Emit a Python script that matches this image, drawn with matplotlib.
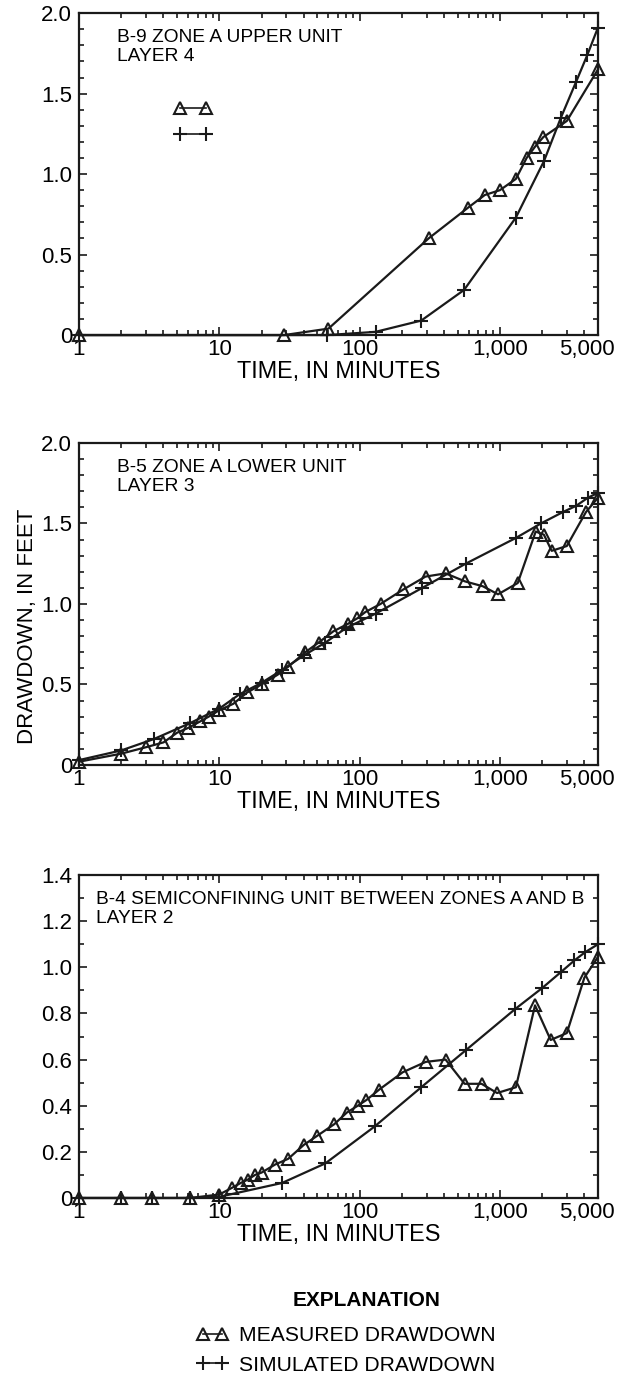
import numpy as np
import matplotlib
matplotlib.use('Agg')
import matplotlib.pyplot as plt
import matplotlib.transforms as mtransforms
from matplotlib.lines import Line2D
from matplotlib.ticker import FixedLocator, FuncFormatter

plt.rcParams['font.family'] = ['Liberation Sans', 'DejaVu Sans']

# B-9, zone A upper unit (layer 4)
b9_meas_t = [1, 29, 60, 310, 590, 780, 1000, 1300, 1550, 1780, 2040, 3000, 5000]
b9_meas_dd = [0, 0, 0.04, 0.60, 0.79, 0.87, 0.90, 0.97, 1.10, 1.17, 1.23, 1.33, 1.65]
b9_sim_t = [1, 59, 130, 275, 555, 1300, 2060, 2720, 3480, 4200, 5000]
b9_sim_dd = [0, 0, 0.02, 0.09, 0.28, 0.73, 1.08, 1.35, 1.57, 1.74, 1.91]

# B-5, zone A lower unit (layer 3)
b5_meas_t = [1, 2, 3, 4, 5, 6, 7.3, 8.4, 10, 12.6, 15.8, 20, 26, 31, 41, 51, 65, 82,
             96, 110, 141, 205, 295, 410, 565, 755, 970, 1340, 1800, 2060, 2340, 3000,
             4100, 5000]
b5_meas_dd = [0.02, 0.07, 0.11, 0.14, 0.20, 0.23, 0.27, 0.30, 0.34, 0.38, 0.45, 0.50,
              0.56, 0.61, 0.70, 0.76, 0.83, 0.875, 0.91, 0.95, 1.00, 1.09, 1.17, 1.19,
              1.14, 1.11, 1.06, 1.13, 1.45, 1.43, 1.33, 1.36, 1.57, 1.66]
b5_sim_t = [1, 2, 3.4, 6.2, 10, 14, 20, 28, 40, 57, 80, 130, 280, 570, 1300, 1960,
            2800, 3500, 4240, 5000]
b5_sim_dd = [0.03, 0.09, 0.16, 0.26, 0.35, 0.44, 0.51, 0.59, 0.68, 0.76, 0.85, 0.94,
             1.10, 1.25, 1.41, 1.50, 1.57, 1.61, 1.66, 1.69]

# B-4, semiconfining unit between zones A and B (layer 2)
b4_meas_t = [1, 2, 3.3, 6.2, 10, 12.4, 14.2, 16, 18, 20, 25, 31, 40, 50, 66, 81, 97,
             112, 138, 203, 296, 410, 560, 740, 955, 1300, 1780, 2300, 3000, 4000, 5000]
b4_meas_dd = [0, 0, 0, 0, 0.015, 0.045, 0.065, 0.08, 0.10, 0.11, 0.145, 0.17, 0.23,
              0.27, 0.32, 0.37, 0.40, 0.425, 0.47, 0.545, 0.59, 0.60, 0.495, 0.495,
              0.455, 0.48, 0.835, 0.685, 0.715, 0.955, 1.045]
b4_sim_t = [1, 2, 3.3, 6.2, 10, 28, 57, 128, 275, 570, 1290, 2000, 2730, 3400, 4040, 5000]
b4_sim_dd = [0, 0, 0, 0, 0.005, 0.065, 0.15, 0.31, 0.48, 0.64, 0.82, 0.91, 0.98, 1.03,
             1.065, 1.10]

x_ticks = [1, 10, 100, 1000, 5000]
x_ticklabels = ['1', '10', '100', '1,000', '5,000']

FS = 16
INK = '#1a1a1a'
meas_style = dict(color=INK, lw=1.6, marker='^', ms=8.5, mfc='none', mec=INK,
                  mew=1.5, clip_on=False)
sim_style = dict(color=INK, lw=1.6, marker='+', ms=10.5, mew=1.5, clip_on=False)


def xlabel_fmt(v, p):
    k = int(round(v))
    return x_ticklabels[x_ticks.index(k)] if k in x_ticks else ''


def draw_panel(ax, mt, md, st, sd, ymax, ystep, title, title_x=0.073):
    ax.plot(st, sd, **sim_style)
    ax.plot(mt, md, **meas_style)
    ax.set_xscale('log')
    ax.set_xlim(1, 5000)
    ax.set_ylim(0, ymax)
    ax.xaxis.set_major_locator(FixedLocator(x_ticks))
    ax.xaxis.set_major_formatter(FuncFormatter(xlabel_fmt))
    minors = [m * 10 ** d for d in range(4) for m in range(2, 10) if m * 10 ** d < 5000]
    ax.xaxis.set_minor_locator(FixedLocator(minors))
    ax.xaxis.set_minor_formatter(FuncFormatter(lambda v, p: ''))
    ax.yaxis.set_major_locator(FixedLocator(np.arange(0, ymax + 1e-6, ystep)))
    ax.yaxis.set_minor_locator(FixedLocator(np.arange(0, ymax + 1e-6, 0.1)))
    ax.yaxis.set_major_formatter(FuncFormatter(lambda v, p: '0' if abs(v) < 1e-9 else f'{v:.1f}'))
    ax.tick_params(which='both', direction='in', top=True, right=True, width=1.2,
                   labelsize=FS, color=INK)
    ax.tick_params(which='major', length=6)
    ax.tick_params(which='minor', length=3.5)
    ax.tick_params(axis='y', pad=5)
    ax.tick_params(axis='x', pad=3)
    for s in ax.spines.values():
        s.set_linewidth(1.6)
        s.set_color(INK)
    ax.set_xlabel('TIME, IN MINUTES', fontsize=16.8, labelpad=0)
    ax.text(title_x, 0.95, title, transform=ax.transAxes, fontsize=13.8, va='top',
            ha='left', linespacing=1.15)
    # the 5,000 label sits a little left of the right edge
    fig.canvas.draw()
    lab = ax.get_xticklabels()[-1]
    lab.set_transform(lab.get_transform() +
                      mtransforms.ScaledTranslation(-11 / 100, 0, fig.dpi_scale_trans))


fig = plt.figure(figsize=(6.23, 13.8), dpi=100)
ax1 = fig.add_axes([0.1268, 0.7572, 0.833, 0.2333])
ax2 = fig.add_axes([0.1268, 0.4457, 0.833, 0.2333])
ax3 = fig.add_axes([0.1268, 0.1319, 0.833, 0.2340])

draw_panel(ax1, b9_meas_t, b9_meas_dd, b9_sim_t, b9_sim_dd, 2.0, 0.5,
           'B-9 ZONE A UPPER UNIT\nLAYER 4')
draw_panel(ax2, b5_meas_t, b5_meas_dd, b5_sim_t, b5_sim_dd, 2.0, 0.5,
           'B-5 ZONE A LOWER UNIT\nLAYER 3')
draw_panel(ax3, b4_meas_t, b4_meas_dd, b4_sim_t, b4_sim_dd, 1.4, 0.2,
           'B-4 SEMICONFINING UNIT BETWEEN ZONES A AND B\nLAYER 2', title_x=0.033)
ax2.set_ylabel('DRAWDOWN, IN FEET', fontsize=16)
ax2.yaxis.set_label_coords(-0.079, 0.43)

# small unlabeled key inside the top panel
key_meas = Line2D([], [], color=INK, lw=1.2, marker='^', ms=8.5, mfc='none',
                  mec=INK, mew=1.5)
key_sim = Line2D([], [], color=INK, lw=1.2, marker='+', ms=10.5, mew=1.5)
ax1.legend([key_meas, key_sim], ['', ''], numpoints=2, loc='upper left',
           bbox_to_anchor=(0.1865, 0.725), frameon=False, fontsize=10,
           handlelength=2.47, borderpad=0, borderaxespad=0, labelspacing=0.9,
           handletextpad=0)

# explanation below the panels
fig.text(0.589, 0.0575, 'EXPLANATION', fontsize=15, fontweight='bold',
         ha='center', va='center')
fig.legend([key_meas, key_sim], ['MEASURED DRAWDOWN', 'SIMULATED DRAWDOWN'],
           numpoints=2, loc='upper left', bbox_to_anchor=(0.3154, 0.0392),
           frameon=False, fontsize=15.2, handlelength=1.53, handletextpad=0.49,
           labelspacing=0.52, borderpad=0, borderaxespad=0)

plt.savefig('out.png', dpi=100)
